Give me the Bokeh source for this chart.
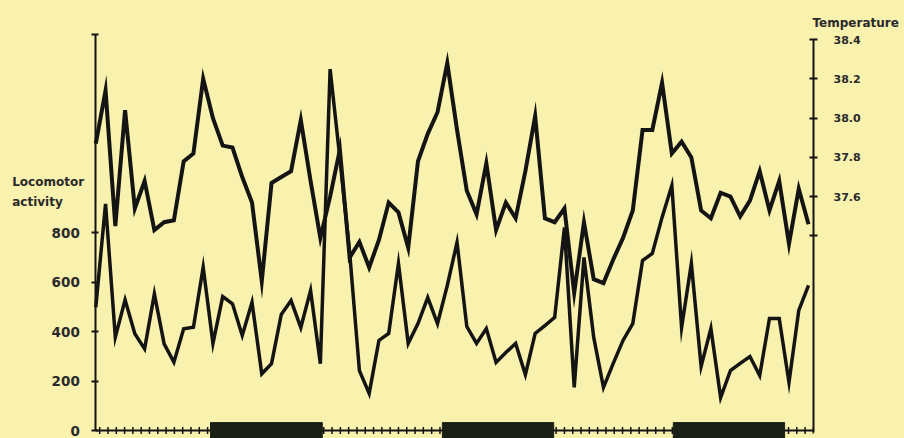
from bokeh.plotting import figure
from bokeh.models import Range1d, LinearAxis, FixedTicker, Title
from bokeh.core.properties import value
from bokeh.embed import file_html
from bokeh.resources import INLINE

# ---- data ----
hours = list(range(74))
activity = [498, 916, 377, 528, 391, 330, 552, 350, 276, 411,
            417, 660, 352, 541, 512, 384, 518, 229, 270, 469,
            525, 416, 566, 270, 1460, 1100, 720, 242, 150, 364,
            392, 675, 352, 432, 537, 432, 586, 760, 420, 352,
            412, 275, 315, 352, 226, 392, 424, 457, 820, 174,
            699, 376, 174, 271, 364, 432, 687, 715, 861, 990,
            416, 675, 259, 412, 133, 242, 271, 299, 222, 453,
            453, 194, 485, 586]
temperature = [37.87, 38.14, 37.45, 38.04, 37.54, 37.68, 37.43, 37.47, 37.48, 37.78,
               37.82, 38.20, 38.00, 37.86, 37.85, 37.70, 37.57, 37.17, 37.67, 37.70,
               37.73, 37.99, 37.68, 37.39, 37.60, 37.84, 37.29, 37.37, 37.24, 37.38,
               37.57, 37.52, 37.34, 37.78, 37.92, 38.03, 38.28, 37.94, 37.63, 37.51,
               37.77, 37.43, 37.57, 37.49, 37.73, 38.01, 37.49, 37.47, 37.54, 37.11,
               37.47, 37.18, 37.16, 37.28, 37.39, 37.53, 37.94, 37.94, 38.18, 37.82,
               37.88, 37.80, 37.53, 37.49, 37.62, 37.60, 37.50, 37.58, 37.73, 37.53,
               37.68, 37.36, 37.64, 37.46]
dark_start = [11.75, 35.5, 59.15]
dark_end = [23.2, 46.9, 70.55]
activity_ticks = [0, 200, 400, 600, 800, 1600]
activity_tick_labels = ["0", "200", "400", "600", "800", ""]
temp_ticks = [37.4, 37.6, 37.8, 38.0, 38.2, 38.4]
temp_tick_labels = ["", "37.6", "37.8", "38.0", "38.2", "38.4"]
hour_ticks = [h * 0.85 + 0.4 for h in range(87)]

BG = "#F9F1AE"
INK = "#141414"
TXT = "#2a2a2a"
FONT = "DejaVu Sans"
X_END = 73.51

p = figure(width=904, height=438, output_backend="svg", toolbar_location=None,
           x_range=Range1d(-9.76, X_END), y_range=Range1d(-32.3, 1616.2),
           x_axis_location=None, min_border_left=0, min_border_right=91,
           min_border_top=30, min_border_bottom=0)
p.extra_y_ranges = {"temp": Range1d(36.369, 38.446)}
p.background_fill_color = BG
p.border_fill_color = BG
p.outline_line_color = None
p.grid.visible = False

# left axis (locomotor activity), drawn at time zero
ya = p.yaxis[0]
ya.fixed_location = 0
ya.ticker = FixedTicker(ticks=activity_ticks)
ya.major_label_overrides = {t: l for t, l in zip(activity_ticks, activity_tick_labels)}
ya.bounds = (0, 1600)
ya.axis_line_width = 2
ya.axis_line_color = INK
ya.major_tick_in = 3
ya.major_tick_out = 4
ya.major_tick_line_width = 2
ya.major_tick_line_color = INK
ya.minor_tick_line_color = None
ya.major_label_standoff = 12
ya.major_label_text_font = FONT
ya.major_label_text_font_style = "bold"
ya.major_label_text_font_size = "13.5px"
ya.major_label_text_color = TXT

# right axis (temperature)
ta = LinearAxis(y_range_name="temp", ticker=FixedTicker(ticks=temp_ticks))
ta.major_label_overrides = {t: l for t, l in zip(temp_ticks, temp_tick_labels)}
ta.bounds = (36.4, 38.4)
ta.axis_line_width = 2
ta.axis_line_color = INK
ta.major_tick_in = 4
ta.major_tick_out = 4
ta.major_tick_line_width = 2
ta.major_tick_line_color = INK
ta.minor_tick_line_color = None
ta.major_label_standoff = 16
ta.major_label_text_font = FONT
ta.major_label_text_font_style = "bold"
ta.major_label_text_font_size = "11px"
ta.major_label_text_color = TXT
p.add_layout(ta, "right")

# time axis with small tick crosses and dark-period bars
p.scatter(hour_ticks, [0] * len(hour_ticks), marker="dash", angle=1.5708,
          size=7, line_color=INK, line_width=1.5)
p.segment(x0=[hours[0]], y0=[0], x1=[X_END], y1=[0], line_color=INK, line_width=2)
p.quad(left=dark_start, right=dark_end, bottom=-40, top=32,
       fill_color="#1b2017", line_color="#1b2017")

# series
p.line(hours, activity, line_color=INK, line_width=3.5, line_join="miter")
p.line(hours, temperature, y_range_name="temp", line_color=INK, line_width=4,
       line_join="miter")

# texts
p.add_layout(Title(text="Temperature", align="left", offset=812, standoff=2,
                   text_font=FONT, text_font_style="bold", text_font_size="12px",
                   text_color=TXT), "above")
p.text(x=[-8.56, -8.56], y=[1006, 925], text=["Locomotor", "activity"],
       text_font=value(FONT), text_font_style="bold", text_font_size="12px",
       text_color=TXT, text_baseline="middle", text_align="left")

html = file_html(p, INLINE).replace("</head>", "<style>body{background:%s;}</style></head>" % BG)
open("out.html", "w").write(html)
